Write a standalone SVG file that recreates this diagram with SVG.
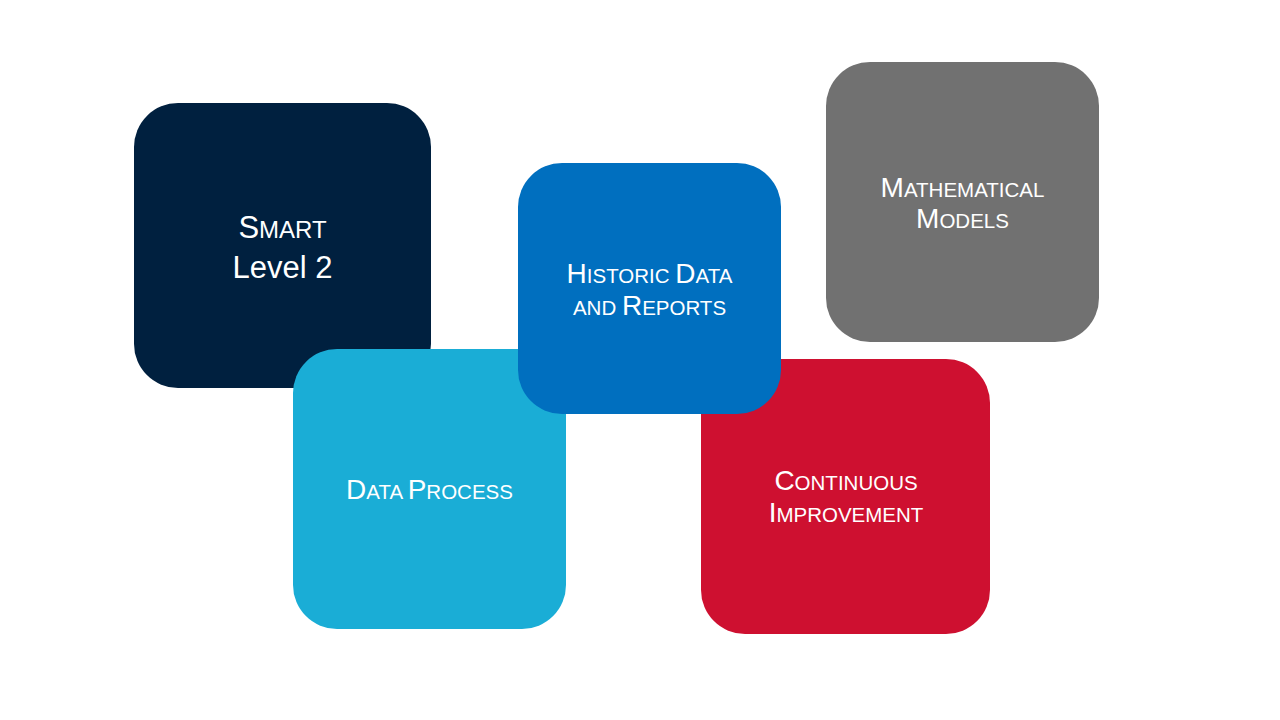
<svg xmlns="http://www.w3.org/2000/svg" width="1280" height="720" viewBox="0 0 1280 720">
  <style>
    .lbl { font-family: "Liberation Sans", Arial, sans-serif; fill: #ffffff; text-anchor: middle; font-size: 28px; }
    .sc { font-size: 20.5px; }
    .big { font-size: 31px; }
    .bigsc { font-size: 24px; }
  </style>
  <rect width="1280" height="720" fill="#ffffff"/>
  <g id="node-smart">
    <rect x="134" y="103" width="297" height="285" rx="44" ry="44" fill="#00203F"/>
    <text class="lbl big" x="282.5" y="238">S<tspan class="bigsc">MART</tspan></text>
    <text class="lbl big" x="282.5" y="278">Level 2</text>
  </g>
  <g id="node-data-process">
    <rect x="293" y="349" width="273" height="280" rx="44" ry="44" fill="#1AADD6"/>
    <text class="lbl" x="429.5" y="499">D<tspan class="sc">ATA </tspan>P<tspan class="sc">ROCESS</tspan></text>
  </g>
  <g id="node-continuous">
    <rect x="701" y="359" width="289" height="275" rx="44" ry="44" fill="#CE1030"/>
    <text class="lbl" x="846" y="490">C<tspan class="sc">ONTINUOUS</tspan></text>
    <text class="lbl" x="846" y="522">I<tspan class="sc">MPROVEMENT</tspan></text>
  </g>
  <g id="node-historic">
    <rect x="518" y="163" width="263" height="251" rx="44" ry="44" fill="#006FBF"/>
    <text class="lbl" x="649.5" y="283">H<tspan class="sc">ISTORIC </tspan>D<tspan class="sc">ATA</tspan></text>
    <text class="lbl" x="649.5" y="315"><tspan class="sc">AND </tspan>R<tspan class="sc">EPORTS</tspan></text>
  </g>
  <g id="node-math">
    <rect x="826" y="62" width="273" height="280" rx="44" ry="44" fill="#717171"/>
    <text class="lbl" x="962.5" y="197">M<tspan class="sc">ATHEMATICAL</tspan></text>
    <text class="lbl" x="962.5" y="228">M<tspan class="sc">ODELS</tspan></text>
  </g>
  <g id="connectors"/>
</svg>
